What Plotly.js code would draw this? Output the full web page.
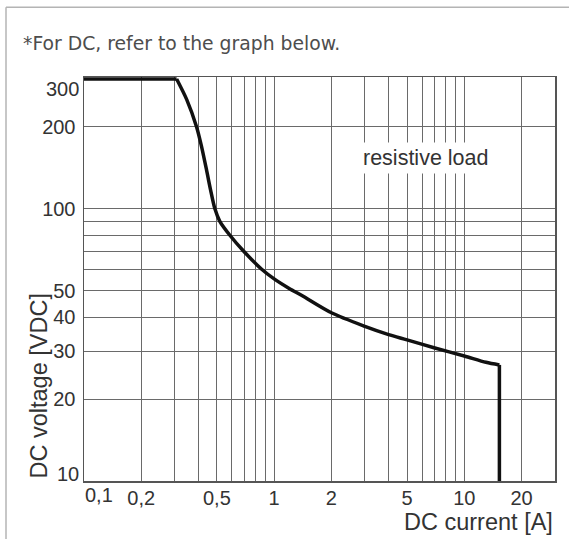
<!DOCTYPE html>
<html>
<head>
<meta charset="utf-8">
<script src="https://cdn.plot.ly/plotly-3.0.1.min.js"></script>
<style>
  html, body { margin: 0; padding: 0; background: #fff; }
  #chart { width: 569px; height: 539px; }
</style>
</head>
<body>
<div id="chart"></div>
<script>
// ---- data ----
const currentA = [0.1, 0.307, 0.347, 0.391, 0.4155, 0.441, 0.463, 0.488, 0.518, 0.585, 0.69, 0.86, 1.0, 1.2, 1.4, 2, 3, 4, 5, 7, 10, 13, 15.3, 15.3];
const voltageV = [300, 300, 252, 200, 169, 139, 117.5, 100, 90, 80, 70, 60, 55.3, 51, 48, 41.5, 37, 34.5, 33, 30.8, 28.8, 27.3, 26.7, 10];

const xTickValues = [0.1, 0.2, 0.5, 1, 2, 5, 10, 20];
const xTickLabels = ['0,1', '0,2', '0,5', '1', '2', '5', '10', '20'];
const xGridValues = [0.2, 0.3, 0.4, 0.5, 0.6, 0.7, 0.8, 0.9, 1, 2, 3, 4, 5, 6, 7, 8, 9, 10, 20];

const yTickValues = [10, 20, 30, 40, 50, 100, 200, 300];
const yTickLabels = ['10', '20', '30', '40', '50', '100', '200', '300'];
const yGridValues = [20, 30, 40, 50, 60, 70, 80, 90, 100, 200];

const xRange = [0.1, 30];
const yRange = [10, 300];

const noteText = '*For DC, refer to the graph below.';
const curveLabel = 'resistive load';
const xTitle = 'DC current [A]';
const yTitle = 'DC voltage [VDC]';

// ---- layout constants ----
const W = 569, H = 539;
const M = { l: 84, r: 14, t: 77, b: 58 };
const plotW = W - M.l - M.r, plotH = H - M.t - M.b;
const yTopPad = 2; // px so the thick top line is not clipped
const yPxPerDecade = (plotH - yTopPad) / Math.log10(yRange[1] / yRange[0]);
const yRangeLog = [Math.log10(yRange[0]), Math.log10(yRange[1]) + yTopPad / yPxPerDecade];

const tickFont = { family: 'Liberation Sans, Arial, Helvetica, sans-serif', size: 20, color: '#333333' };
const labelFont = { family: 'Liberation Sans, Arial, Helvetica, sans-serif', size: 23.5, color: '#333333' };
const gridColor = '#6a6a6a';

const px2paperX = p => (p - M.l) / plotW;
const px2paperY = p => (H - M.b - p) / plotH;

// edge labels drawn inside the box like the reference
const edgeX = [0];
const edgeY = [0, yTickValues.length - 1];
const xMajor = xTickValues.filter((v, i) => !edgeX.includes(i));
const xMajorText = xTickLabels.filter((v, i) => !edgeX.includes(i));
const yMajor = yTickValues.filter((v, i) => !edgeY.includes(i));
const yMajorText = yTickLabels.filter((v, i) => !edgeY.includes(i));
const xMinor = xGridValues.filter(v => !xMajor.includes(v));
const yMinor = yGridValues.filter(v => !yMajor.includes(v));

const annotations = [
  {
    text: curveLabel, xref: 'paper', yref: 'paper',
    x: px2paperX(425.5), y: px2paperY(158), xanchor: 'center', yanchor: 'middle',
    showarrow: false, bgcolor: '#ffffff', borderpad: 3,
    font: { family: 'Liberation Sans, Arial, sans-serif', size: 21.5, color: '#333333' }
  },
  {
    text: xTitle, xref: 'paper', yref: 'paper', x: 1, y: px2paperY(522),
    xanchor: 'right', yanchor: 'middle', showarrow: false, font: labelFont
  },
  {
    text: yTitle, xref: 'paper', yref: 'paper', x: px2paperX(38), y: px2paperY(481),
    xanchor: 'center', yanchor: 'bottom', textangle: -90, showarrow: false, font: labelFont
  },
  {
    text: xTickLabels[0], xref: 'x', yref: 'paper', x: Math.log10(xTickValues[0]), y: 0,
    xanchor: 'left', yanchor: 'top', xshift: -1, yshift: -1, showarrow: false, font: tickFont
  },
  {
    text: yTickLabels[yTickLabels.length - 1], xref: 'paper', yref: 'y', x: 0,
    y: Math.log10(yTickValues[yTickValues.length - 1]),
    xanchor: 'right', yanchor: 'top', xshift: -3, yshift: 3, showarrow: false, font: tickFont
  },
  {
    text: yTickLabels[0], xref: 'paper', yref: 'y', x: 0, y: Math.log10(yTickValues[0]),
    xanchor: 'right', yanchor: 'bottom', xshift: -3, yshift: -6, showarrow: false, font: tickFont
  }
];

const frameColor = '#b4b4b4';
const shapes = [
  { type: 'line', xref: 'paper', yref: 'paper', x0: px2paperX(6), x1: px2paperX(572), y0: px2paperY(7.3), y1: px2paperY(7.3), line: { color: frameColor, width: 1.5 } },
  { type: 'line', xref: 'paper', yref: 'paper', x0: px2paperX(6), x1: px2paperX(6), y0: px2paperY(7.3), y1: px2paperY(542), line: { color: frameColor, width: 1.5 } }
];

// curve split into: flat limit, smooth knee, vertical cut-off (shares corner points)
const n = currentA.length;
const lineStyle = { color: '#111111', width: 3.5 };
const traces = [
  { x: currentA.slice(0, 2), y: voltageV.slice(0, 2), type: 'scatter', mode: 'lines', line: lineStyle },
  { x: currentA.slice(1, n - 1), y: voltageV.slice(1, n - 1), type: 'scatter', mode: 'lines', line: Object.assign({ shape: 'spline', smoothing: 0.8 }, lineStyle) },
  { x: currentA.slice(n - 2), y: voltageV.slice(n - 2), type: 'scatter', mode: 'lines', line: lineStyle }
];

const layout = {
  width: W, height: H, margin: M,
  paper_bgcolor: '#ffffff', plot_bgcolor: '#ffffff',
  showlegend: false,
  title: {
    text: noteText, xref: 'container', yref: 'container',
    x: 23 / W, xanchor: 'left', y: 1 - 43 / H, yanchor: 'middle',
    font: { family: 'DejaVu Sans, Noto Sans, sans-serif', size: 18.8, color: '#4d4d4d' }
  },
  xaxis: {
    type: 'log', range: xRange.map(Math.log10), fixedrange: true,
    tickmode: 'array', tickvals: xMajor, ticktext: xMajorText,
    showgrid: true, gridcolor: gridColor, gridwidth: 1,
    minor: { tickmode: 'array', tickvals: xMinor, showgrid: true, gridcolor: gridColor, gridwidth: 1, ticks: '' },
    ticks: '', ticklabelstandoff: -2, tickfont: tickFont,
    showline: true, linecolor: '#555555', linewidth: 1.5, mirror: true, zeroline: false
  },
  yaxis: {
    type: 'log', range: yRangeLog, fixedrange: true,
    tickmode: 'array', tickvals: yMajor, ticktext: yMajorText,
    showgrid: true, gridcolor: gridColor, gridwidth: 1,
    minor: { tickmode: 'array', tickvals: yMinor, showgrid: true, gridcolor: gridColor, gridwidth: 1, ticks: '' },
    ticks: '', ticklabelstandoff: 3, tickfont: tickFont,
    showline: true, linecolor: '#555555', linewidth: 1.5, mirror: true, zeroline: false
  },
  annotations: annotations,
  shapes: shapes
};

Plotly.newPlot('chart', traces, layout, { staticPlot: true, displayModeBar: false });
</script>
</body>
</html>
